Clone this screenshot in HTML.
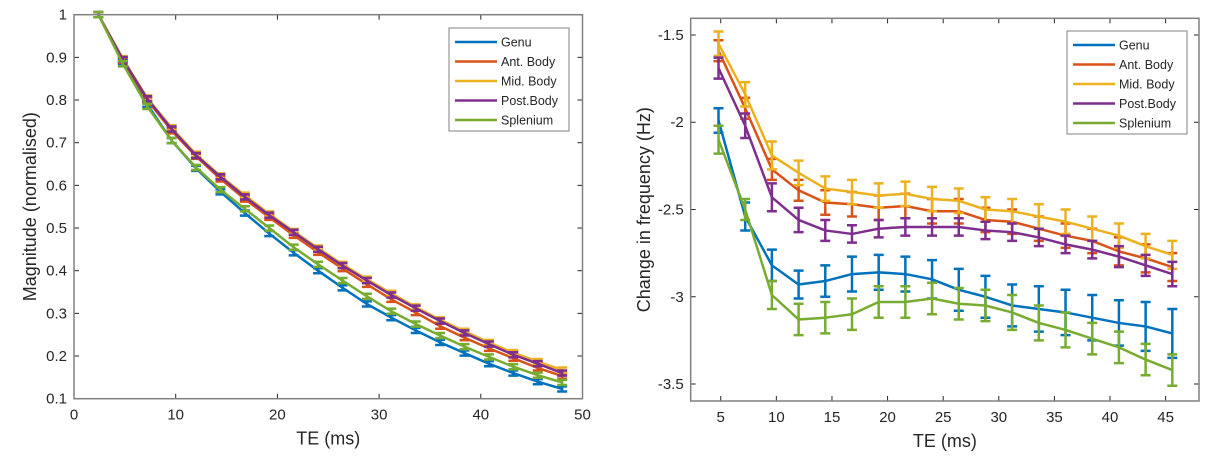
<!DOCTYPE html>
<html><head><meta charset="utf-8"><style>
body{margin:0;background:#fff;width:1226px;height:465px;overflow:hidden;font-family:"Liberation Sans",Arial,sans-serif}
svg text{font-family:"Liberation Sans",Arial,sans-serif;fill:#262626}
</style></head><body>
<svg id="s" width="1226" height="465" viewBox="0 0 1226 465" xmlns="http://www.w3.org/2000/svg"></svg>
<script>
const seriesNames=["Genu","Ant. Body","Mid. Body","Post.Body","Splenium"];
const colors=["#0072BD","#D95319","#EDB120","#7E2F8E","#77AC30"];
// Left chart
const leftTE=[2.4,4.8,7.2,9.6,12,14.4,16.8,19.2,21.6,24,26.4,28.8,31.2,33.6,36,38.4,40.8,43.2,45.6,48];
const leftGenu=[1,0.89,0.79,0.705,0.64,0.585,0.535,0.487,0.442,0.4,0.36,0.322,0.29,0.26,0.232,0.207,0.182,0.16,0.14,0.123];
const leftAnt=[1,0.893,0.8,0.728,0.668,0.615,0.568,0.525,0.483,0.443,0.405,0.368,0.333,0.302,0.27,0.243,0.218,0.195,0.172,0.153];
const leftMid=[1,0.897,0.805,0.735,0.673,0.622,0.577,0.533,0.492,0.453,0.415,0.38,0.347,0.315,0.285,0.258,0.232,0.208,0.187,0.167];
const leftPost=[1,0.895,0.803,0.732,0.67,0.62,0.573,0.53,0.49,0.45,0.412,0.377,0.343,0.312,0.282,0.254,0.228,0.203,0.182,0.16];
const leftSpl=[1,0.885,0.785,0.705,0.642,0.59,0.545,0.5,0.455,0.415,0.377,0.34,0.305,0.275,0.248,0.222,0.198,0.175,0.155,0.138];
const leftErr=0.006;
const leftXTicks=[0,10,20,30,40,50];
const leftYTicks=[0.1,0.2,0.3,0.4,0.5,0.6,0.7,0.8,0.9,1];
const leftYLabels=["0.1","0.2","0.3","0.4","0.5","0.6","0.7","0.8","0.9","1"];
// Right chart
const rightTE=[4.8,7.2,9.6,12,14.4,16.8,19.2,21.6,24,26.4,28.8,31.2,33.6,36,38.4,40.8,43.2,45.6];
const rightGenu=[-1.99,-2.54,-2.82,-2.93,-2.91,-2.87,-2.86,-2.87,-2.9,-2.96,-3.0,-3.05,-3.07,-3.09,-3.12,-3.15,-3.17,-3.21];
const rightGenuErr=[0.07,0.08,0.09,0.08,0.09,0.1,0.1,0.1,0.11,0.12,0.12,0.12,0.13,0.13,0.13,0.13,0.14,0.14];
const rightAnt=[-1.59,-1.92,-2.27,-2.39,-2.46,-2.47,-2.49,-2.48,-2.51,-2.51,-2.56,-2.57,-2.61,-2.65,-2.68,-2.74,-2.78,-2.83];
const rightAntErr=[0.06,0.06,0.06,0.06,0.07,0.07,0.07,0.07,0.07,0.07,0.07,0.07,0.07,0.07,0.07,0.08,0.08,0.08];
const rightMid=[-1.55,-1.84,-2.19,-2.29,-2.38,-2.4,-2.42,-2.41,-2.44,-2.45,-2.5,-2.51,-2.54,-2.57,-2.61,-2.65,-2.71,-2.76];
const rightMidErr=[0.07,0.07,0.08,0.07,0.07,0.07,0.07,0.07,0.07,0.07,0.07,0.07,0.07,0.07,0.07,0.07,0.07,0.08];
const rightPost=[-1.69,-2.02,-2.43,-2.56,-2.62,-2.64,-2.61,-2.6,-2.6,-2.6,-2.62,-2.63,-2.66,-2.7,-2.73,-2.77,-2.82,-2.87];
const rightPostErr=[0.06,0.07,0.08,0.07,0.06,0.05,0.05,0.05,0.05,0.05,0.05,0.05,0.05,0.05,0.05,0.06,0.06,0.07];
const rightSpl=[-2.1,-2.5,-2.99,-3.13,-3.12,-3.1,-3.03,-3.03,-3.01,-3.04,-3.05,-3.09,-3.15,-3.19,-3.24,-3.29,-3.36,-3.42];
const rightSplErr=[0.08,0.06,0.08,0.09,0.09,0.09,0.09,0.09,0.09,0.09,0.09,0.1,0.1,0.1,0.09,0.09,0.09,0.09];
const rightXTicks=[5,10,15,20,25,30,35,40,45];
const rightYTicks=[-1.5,-2,-2.5,-3,-3.5];
const rightYLabels=["-1.5","-2","-2.5","-3","-3.5"];

const NS="http://www.w3.org/2000/svg";
const svg=document.getElementById('s');
function mk(tag,attrs,parent){const e=document.createElementNS(NS,tag);for(const k in attrs)e.setAttribute(k,attrs[k]);(parent||svg).appendChild(e);return e;}

function chart(cfg){
  const g=mk('g',{});
  
  
  const xs=v=>cfg.x0+(v-cfg.xmin)/(cfg.xmax-cfg.xmin)*(cfg.x1-cfg.x0);
  const ys=v=>cfg.y0-(v-cfg.ymin)/(cfg.ymax-cfg.ymin)*(cfg.y0-cfg.y1);
  cfg.xTicks.forEach(t=>{const x=xs(t);
    const l=mk('line',{x1:x,x2:x,y1:cfg.y0,y2:cfg.y0-5,stroke:'#262626','stroke-width':1},g);
    
    const l2=mk('line',{x1:x,x2:x,y1:cfg.y1,y2:cfg.y1+5,stroke:'#262626','stroke-width':1},g);
    
    const tx=mk('text',{x:x,y:cfg.y0+21,'font-size':15,'text-anchor':'middle'},g);tx.textContent=String(t);
    });
  cfg.yTicks.forEach((t,i)=>{const y=ys(t);
    const l=mk('line',{x1:cfg.x0,x2:cfg.x0+5,y1:y,y2:y,stroke:'#262626','stroke-width':1},g);
    
    const l2=mk('line',{x1:cfg.x1,x2:cfg.x1-5,y1:y,y2:y,stroke:'#262626','stroke-width':1},g);
    
    const tx=mk('text',{x:cfg.x0-7,y:y+5,'font-size':15,'text-anchor':'end'},g);tx.textContent=cfg.yLabels[i];
    });
  cfg.series.forEach((s,si)=>{
    const sg=mk('g',{},g);
    
    
    const c=colors[si];
    s.vals.forEach((v,i)=>{const x=xs(cfg.te[i]);const e=Array.isArray(s.err)?s.err[i]:s.err;
      const yt=ys(v+e),yb=ys(v-e);
      const eb=mk('path',{d:`M${x},${yt}V${yb}M${x-cfg.cap},${yt}H${x+cfg.cap}M${x-cfg.cap},${yb}H${x+cfg.cap}`,stroke:c,'stroke-width':2.5,fill:'none'},sg);
      });
    const pts=s.vals.map((v,i)=>xs(cfg.te[i])+','+ys(v)).join(' ');
    const pl=mk('polyline',{points:pts,stroke:c,'stroke-width':2.5,fill:'none','stroke-linejoin':'round'},sg);
    
  });
  const box=mk('rect',{x:cfg.x0,y:cfg.y1,width:cfg.x1-cfg.x0,height:cfg.y0-cfg.y1,fill:'none',stroke:'#808080','stroke-width':1.5},g);
  
  const xl=mk('text',{x:(cfg.x0+cfg.x1)/2,y:cfg.y0+46,'font-size':18,'text-anchor':'middle'},g);xl.textContent='TE (ms)';
  
  const yx=cfg.yTitleX, yy=(cfg.y0+cfg.y1)/2;
  const yl=mk('text',{x:yx,y:yy,'font-size':18,'text-anchor':'middle',transform:`rotate(-90 ${yx} ${yy})`},g);yl.textContent=cfg.yTitle;
  
  const L=cfg.legend;
  const lg=mk('g',{},g);
  mk('rect',{x:L.x,y:L.y,width:L.w,height:L.h,fill:'#fff',stroke:'#808080','stroke-width':1},lg);
  seriesNames.forEach((n,i)=>{const y=L.y+14+i*19.5;
    const le=mk('g',{},lg);
    mk('line',{x1:L.x+6,x2:L.x+48,y1:y,y2:y,stroke:colors[i],'stroke-width':2.5},le);
    const t=mk('text',{x:L.x+52,y:y+4.5,'font-size':12.5},le);t.textContent=n;});
}
chart({name:'magnitude-chart',x0:74,x1:582.5,y0:398.7,y1:14.7,xmin:0,xmax:50,ymin:0.1,ymax:1,
  xTicks:leftXTicks,yTicks:leftYTicks,yLabels:leftYLabels,te:leftTE,cap:5,yTitle:'Magnitude (normalised)',yTitleX:36,
  series:[{vals:leftGenu,err:leftErr},{vals:leftAnt,err:leftErr},{vals:leftMid,err:leftErr},{vals:leftPost,err:leftErr},{vals:leftSpl,err:leftErr}],
  legend:{x:449,y:28,w:120,h:103}});
chart({name:'frequency-chart',x0:690.7,x1:1199,y0:401,y1:18.3,xmin:2.3,xmax:48,ymin:-3.5-(401-384)/174.6,ymax:-1.5+(35-18.3)/174.6,
  xTicks:rightXTicks,yTicks:rightYTicks,yLabels:rightYLabels,te:rightTE,cap:5,yTitle:'Change in frequency (Hz)',yTitleX:650,
  series:[{vals:rightGenu,err:rightGenuErr},{vals:rightAnt,err:rightAntErr},{vals:rightMid,err:rightMidErr},{vals:rightPost,err:rightPostErr},{vals:rightSpl,err:rightSplErr}],
  legend:{x:1067,y:31,w:120,h:103}});
</script>
</body></html>
